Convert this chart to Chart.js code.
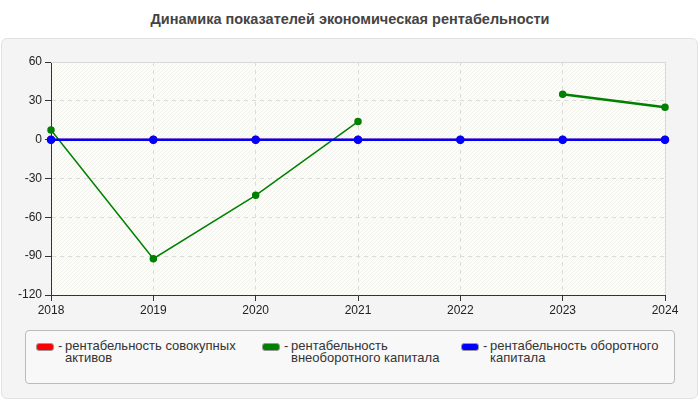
<!DOCTYPE html>
<html><head><meta charset="utf-8">
<script src="https://cdn.jsdelivr.net/npm/chart.js@4"></script>
<style>
body{margin:0;width:700px;height:400px;background:#fff;font-family:"Liberation Sans",Arial,sans-serif;position:relative;overflow:hidden}
#title{position:absolute;left:0;top:11px;width:700px;text-align:center;font-weight:bold;font-size:14.5px;color:#444}
#panel{position:absolute;left:1px;top:38px;width:695px;height:359px;background:#f4f4f4;border:1px solid #e2e2e2;border-radius:6px}
#wrap{position:absolute;left:0;top:40px;width:700px;height:280px}
#legend{position:absolute;left:25px;top:330px;width:648px;height:52px;border:1px solid #bbb;border-radius:4px;background:#f8f8f8}
.item{position:absolute;top:9px;font-size:13px;line-height:12px;color:#333}
.sw{position:absolute;left:0;top:3px;width:16px;height:6px;border-radius:3px;border:1px solid #999}
.dash{position:absolute;left:22px;top:0}
.tx{position:absolute;left:29px;top:0}
</style></head><body>
<div id="title">Динамика показателей экономическая рентабельности</div>
<div id="panel"></div>
<div id="wrap"><canvas id="c" width="700" height="280"></canvas></div>
<div id="legend"></div>
<script>
const years = ["2018","2019","2020","2021","2022","2023","2024"];
const seriesNames = ["рентабельность совокупных активов","рентабельность внеоборотного капитала","рентабельность оборотного капитала"];
const seriesColors = ["#ff0000","#008000","#0000ff"];
const totalAssets = [0,0,0,0,0,0,0];
const nonCurrent = [7.5,-92,-43,14,null,35,25];
const current = [0,0,0,0,0,0,0];
const yTicks = [60,30,0,-30,-60,-90,-120];

// legend (HTML)
const legendX=[10,236,435], legendW=[188,163,208];
const lg=document.getElementById('legend');
seriesNames.forEach((n,i)=>{
  const d=document.createElement('div');d.className='item';d.style.left=legendX[i]+'px';
  d.innerHTML='<div class="sw" style="background:'+seriesColors[i]+'"></div><div class="dash">-</div><div class="tx" style="width:'+legendW[i]+'px">'+n+'</div>';
  lg.appendChild(d);
});

const bgPlugin={id:'bg',beforeDraw(ch){
  const {ctx,chartArea:a}=ch;
  ctx.save();
  ctx.fillStyle='#fdfdf7';ctx.fillRect(a.left,a.top,a.right-a.left,a.bottom-a.top);
  ctx.beginPath();ctx.rect(a.left,a.top,a.right-a.left,a.bottom-a.top);ctx.clip();
  ctx.strokeStyle='rgba(215,215,215,0.3)';ctx.lineWidth=1;
  for(let k=-(a.bottom-a.top);k<a.right-a.left;k+=4){
    ctx.beginPath();ctx.moveTo(a.left+k,a.bottom);ctx.lineTo(a.left+k+(a.bottom-a.top),a.top);ctx.stroke();
  }
  ctx.restore();
}, beforeDatasetsDraw(ch){
  const {ctx,chartArea:a}=ch;
  ctx.save();ctx.strokeStyle='#d8d8d8';ctx.lineWidth=1;
  ctx.beginPath();ctx.moveTo(a.left,a.top+0.5);ctx.lineTo(a.right+0.5,a.top+0.5);ctx.lineTo(a.right+0.5,a.bottom);ctx.stroke();
  ctx.restore();
}};

new Chart(document.getElementById('c'),{
  type:'line',
  data:{labels:years,datasets:[
    {label:seriesNames[0],data:totalAssets,borderColor:seriesColors[0],backgroundColor:seriesColors[0],borderWidth:2,pointRadius:3,order:3},
    {label:seriesNames[1],data:nonCurrent,borderColor:seriesColors[1],backgroundColor:seriesColors[1],borderWidth:1.5,pointRadius:3,spanGaps:false,order:2,
      segment:{borderWidth:c=>c.p0DataIndex>=5?2.5:1.5}},
    {label:seriesNames[2],data:current,borderColor:seriesColors[2],backgroundColor:seriesColors[2],borderWidth:2.5,pointRadius:3,order:1}
  ]},
  options:{
    responsive:false,animation:false,
    layout:{padding:{top:22,right:35,left:0,bottom:0}},
    plugins:{legend:{display:false},title:{display:false},tooltip:{enabled:false}},
    elements:{line:{tension:0},point:{borderWidth:0}},
    scales:{
      x:{offset:false,
        grid:{color:'#dcdcdc',tickColor:'#333',tickLength:6,tickBorderDash:[0,0],drawOnChartArea:true},
        border:{color:'#333',width:1,dash:[4,4]},
        ticks:{color:'#222',font:{family:'Liberation Sans',size:12},padding:2,maxRotation:0},
        afterFit(s){s.height=25;}
      },
      y:{min:-120,max:60,
        afterBuildTicks(s){s.ticks=yTicks.map(v=>({value:v}));},
        grid:{color:'#dcdcdc',tickColor:'#333',tickLength:6,tickBorderDash:[0,0]},
        border:{color:'#333',width:1,dash:[4,4]},
        ticks:{color:'#222',font:{family:'Liberation Sans',size:12},padding:3},
        afterFit(s){s.width=51;}
      }
    }
  },
  plugins:[bgPlugin]
});
</script>
</body></html>
